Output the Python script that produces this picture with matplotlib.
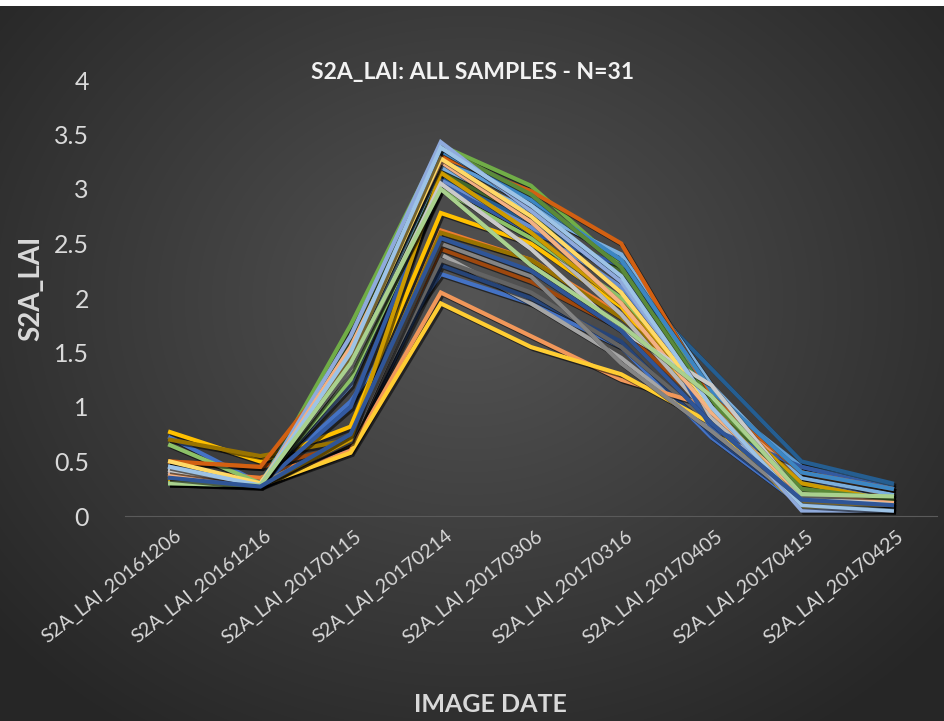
import numpy as np
import matplotlib
matplotlib.use("Agg")
import matplotlib.pyplot as plt
import matplotlib.patheffects as pe
import matplotlib.transforms as mtransforms

plt.rcParams['font.family'] = ['Lato', 'DejaVu Sans']

# categories (image dates)
dates = ['S2A_LAI_20161206', 'S2A_LAI_20161216', 'S2A_LAI_20170115',
         'S2A_LAI_20170214', 'S2A_LAI_20170306', 'S2A_LAI_20170316',
         'S2A_LAI_20170405', 'S2A_LAI_20170415', 'S2A_LAI_20170425']

# LAI per sample (31 samples)
s01 = [0.72, 0.30, 1.05, 2.22, 1.95, 1.55, 0.72, 0.10, 0.12]
s02 = [0.42, 0.35, 0.65, 2.62, 2.35, 1.85, 1.05, 0.38, 0.22]
s03 = [0.38, 0.30, 0.62, 2.40, 1.95, 1.45, 0.80, 0.20, 0.12]
s04 = [0.77, 0.50, 0.82, 2.78, 2.50, 1.92, 0.95, 0.15, 0.10]
s05 = [0.35, 0.28, 1.45, 3.30, 2.85, 2.35, 1.10, 0.45, 0.28]
s06 = [0.30, 0.28, 1.75, 3.40, 3.03, 2.30, 1.15, 0.30, 0.15]
s07 = [0.30, 0.27, 0.63, 2.30, 2.00, 1.60, 0.75, 0.12, 0.08]
s08 = [0.50, 0.45, 0.65, 2.45, 2.15, 1.72, 0.95, 0.35, 0.20]
s09 = [0.32, 0.28, 0.68, 2.35, 2.05, 1.55, 0.85, 0.10, 0.06]
s10 = [0.70, 0.55, 0.70, 2.60, 2.35, 1.82, 1.15, 0.28, 0.15]
s11 = [0.30, 0.27, 1.30, 3.10, 2.70, 2.20, 1.35, 0.50, 0.30]
s12 = [0.33, 0.28, 1.35, 3.15, 2.75, 2.25, 1.00, 0.25, 0.12]
s13 = [0.45, 0.30, 1.20, 3.08, 2.65, 2.10, 1.05, 0.30, 0.18]
s14 = [0.38, 0.28, 0.60, 2.05, 1.65, 1.25, 1.00, 0.40, 0.18]
s15 = [0.40, 0.30, 1.30, 3.05, 2.60, 1.85, 0.90, 0.15, 0.06]
s16 = [0.36, 0.28, 0.58, 1.95, 1.55, 1.30, 0.85, 0.08, 0.08]
s17 = [0.45, 0.28, 1.40, 3.20, 2.80, 2.40, 1.20, 0.35, 0.20]
s18 = [0.65, 0.30, 1.25, 3.00, 2.55, 2.00, 1.10, 0.22, 0.15]
s19 = [0.35, 0.28, 1.00, 3.05, 2.60, 2.30, 0.80, 0.45, 0.25]
s20 = [0.50, 0.45, 1.50, 3.30, 2.98, 2.50, 1.10, 0.40, 0.25]
s21 = [0.42, 0.30, 0.68, 2.50, 2.20, 1.40, 0.78, 0.12, 0.10]
s22 = [0.32, 0.28, 0.70, 3.15, 2.60, 1.95, 1.05, 0.30, 0.14]
s23 = [0.36, 0.30, 1.55, 3.35, 2.90, 2.35, 1.15, 0.40, 0.25]
s24 = [0.30, 0.28, 1.60, 3.38, 2.95, 2.28, 1.05, 0.25, 0.15]
s25 = [0.40, 0.28, 1.65, 3.43, 2.80, 2.15, 1.00, 0.05, 0.05]
s26 = [0.38, 0.28, 1.55, 3.25, 2.70, 1.95, 0.95, 0.20, 0.12]
s27 = [0.42, 0.30, 1.35, 3.05, 2.45, 1.70, 1.20, 0.18, 0.10]
s28 = [0.50, 0.30, 1.45, 3.28, 2.75, 2.05, 1.00, 0.12, 0.10]
s29 = [0.45, 0.28, 1.50, 3.38, 2.85, 2.20, 1.00, 0.10, 0.05]
s30 = [0.30, 0.28, 1.40, 3.00, 2.30, 1.75, 1.10, 0.20, 0.18]
s31 = [0.35, 0.27, 0.75, 2.55, 2.25, 1.70, 0.85, 0.15, 0.10]

samples = [s01, s02, s03, s04, s05, s06, s07, s08, s09, s10, s11, s12, s13, s14, s15, s16,
           s17, s18, s19, s20, s21, s22, s23, s24, s25, s26, s27, s28, s29, s30, s31]

# office-like series colours
colors = ['#4472C4', '#ED7D31', '#A5A5A5', '#FFC000', '#5B9BD5', '#70AD47',
          '#264478', '#9E480E', '#636363', '#997300', '#255E91', '#43682B',
          '#698ED0', '#F1975A', '#B7B7B7', '#FFCD33', '#7CAFDD', '#8CC168',
          '#335AA1', '#D26012', '#848484', '#CC9A00', '#3C86C3', '#5A8A39',
          '#8FAADC', '#F4B183', '#C9C9C9', '#FFD966', '#9DC3E6', '#A9D18E',
          '#2F5597']

W, H = 945, 721
fig = plt.figure(figsize=(W / 100, H / 100), dpi=100)

# radial dark gradient background
bg = fig.add_axes([0, 0, 1, 1], zorder=0)
yy, xx = np.mgrid[0:H, 0:W]
r = np.sqrt(((xx - 470) / 620.0) ** 2 + ((yy - 300) / 520.0) ** 2)
r = np.clip(r, 0, 1)
val = 0.33 - (0.33 - 0.15) * r
img = np.dstack([val, val, val])
img[:6, :, :] = 1.0
bg.imshow(img, extent=[0, 1, 0, 1], aspect='auto', origin='upper')
bg.axis('off')

ax = fig.add_axes([125 / W, 1 - 516 / H, 812 / W, 436 / H], zorder=1)
ax.patch.set_alpha(0)

x = np.arange(len(dates))
shadow = [pe.SimpleLineShadow(offset=(1.5, -1.5), shadow_color='black', alpha=0.55),
          pe.Normal()]
for vals, c in zip(samples, colors):
    ax.plot(x, vals, color=c, lw=3.0, solid_joinstyle='miter', path_effects=shadow)

ax.set_xlim(-0.5, len(dates) - 0.5)
ax.set_ylim(0, 4)
ax.set_yticks(np.arange(0, 4.01, 0.5))
ax.set_yticklabels(['0', '0.5', '1', '1.5', '2', '2.5', '3', '3.5', '4'])
ax.set_xticks(x)
ax.set_xticklabels(dates)

for s in ['top', 'right', 'left']:
    ax.spines[s].set_visible(False)
ax.spines['bottom'].set_color('#5a5a5a')
ax.spines['bottom'].set_linewidth(0.8)
ax.tick_params(axis='y', length=0, pad=26, labelsize=18, labelcolor='#D9D9D9')
ax.tick_params(axis='x', length=0, pad=8, labelsize=14, labelcolor='#D9D9D9')

shift = mtransforms.ScaledTranslation(4 / 100, 0, fig.dpi_scale_trans)
for lbl in ax.get_xticklabels():
    lbl.set_rotation(38)
    lbl.set_horizontalalignment('right')
    lbl.set_verticalalignment('top')
    lbl.set_rotation_mode('anchor')
    lbl.set_transform(lbl.get_transform() + shift)

fig.text(0.5, 1 - 72 / H, 'S2A_LAI: ALL SAMPLES - N=31', ha='center', va='center',
         fontsize=16.5, fontweight='bold', color='#F2F2F2')
fig.text(31 / W, 1 - 288 / H, 'S2A_LAI', ha='center', va='center', rotation=90,
         fontsize=20, fontweight='bold', color='#D9D9D9')
fig.text(490 / W, 1 - 705 / H, 'IMAGE DATE', ha='center', va='center',
         fontsize=18, fontweight='bold', color='#D9D9D9')

plt.savefig('out.png', dpi=100)
